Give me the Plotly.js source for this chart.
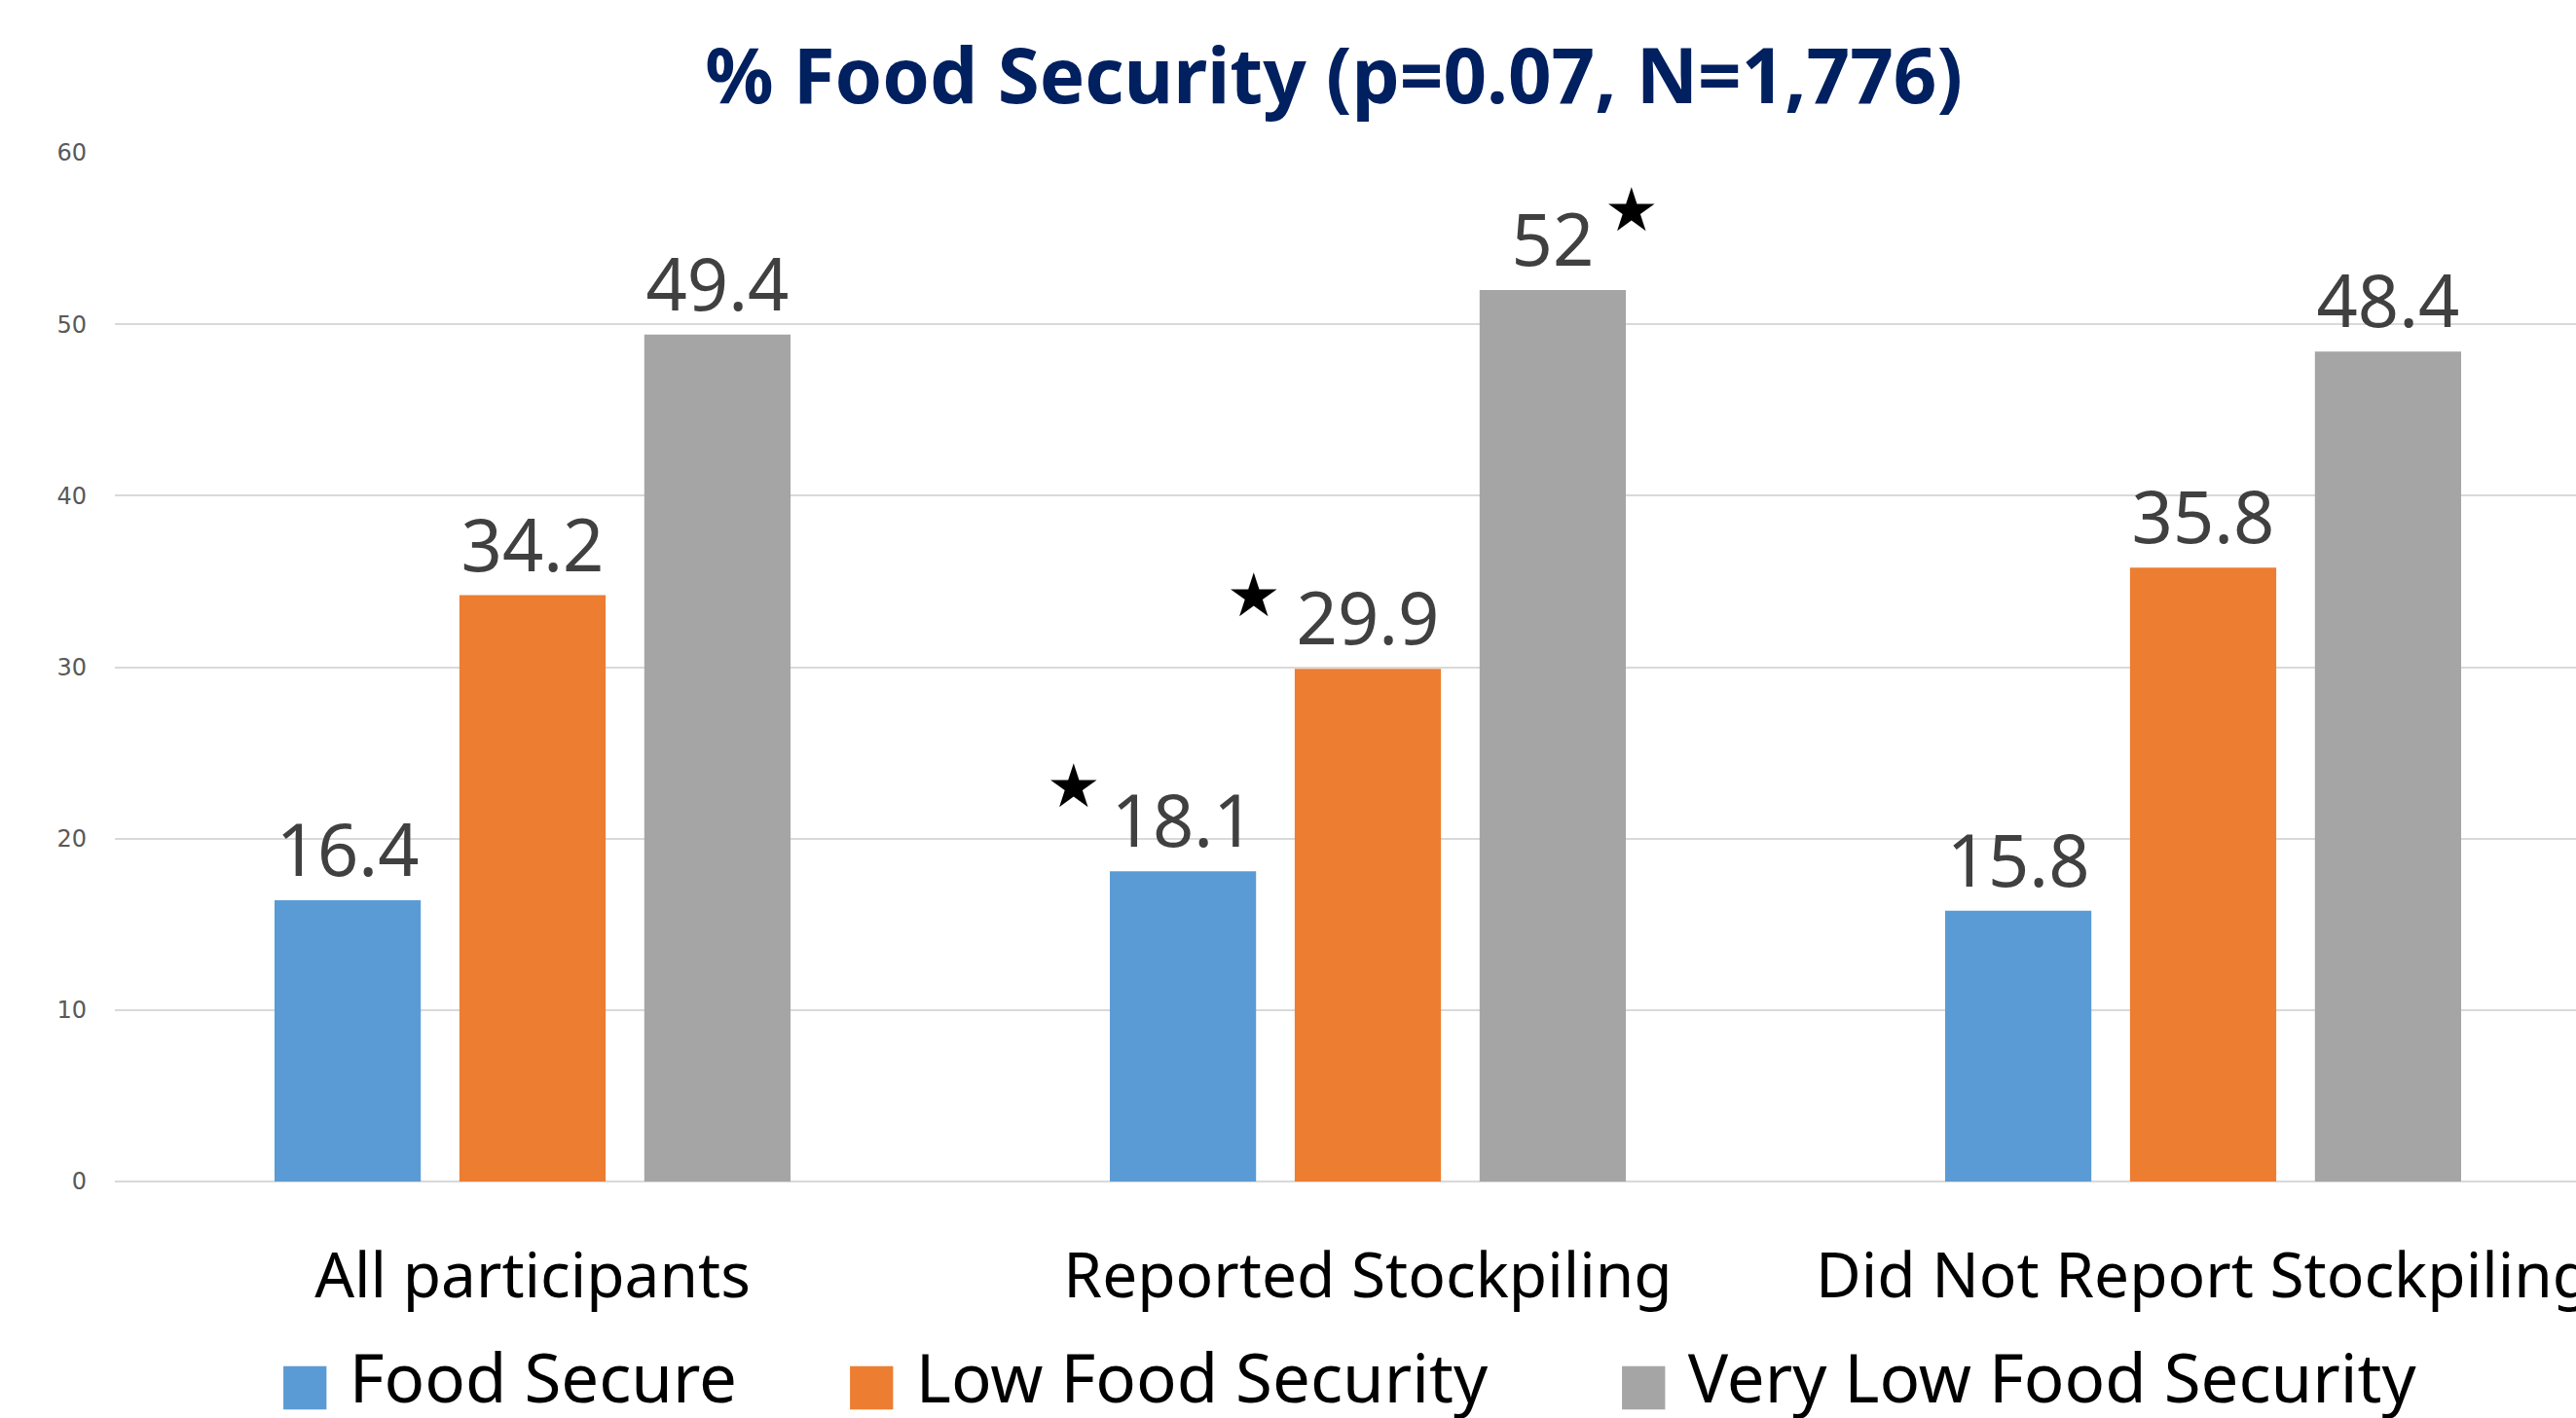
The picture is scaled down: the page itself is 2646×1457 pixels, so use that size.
<!DOCTYPE html>
<html>
<head>
<meta charset="utf-8">
<script src="https://cdn.plot.ly/plotly-3.0.1.min.js"></script>
<style>
html,body{margin:0;padding:0;background:#fff;}
#chart{width:2646px;height:1457px;}
</style>
</head>
<body>
<div id="chart"></div>
<script>
// ---- data ----
const categories = ["All participants", "Reported Stockpiling", "Did Not Report Stockpiling"];
const seriesNames = ["Food Secure", "Low Food Security", "Very Low Food Security"];
const foodSecure = [16.4, 18.1, 15.8];
const lowFoodSecurity = [34.2, 29.9, 35.8];
const veryLowFoodSecurity = [49.4, 52, 48.4];
const seriesColors = ["#5B9BD5", "#ED7D31", "#A5A5A5"];
const yTicks = [0, 10, 20, 30, 40, 50, 60];
const chartTitle = "% Food Security (p=0.07, N=1,776)";
// significance stars: [category, series index, value]
const stars = [
  ["Reported Stockpiling", 0, 18.1],
  ["Reported Stockpiling", 1, 29.9],
  ["Reported Stockpiling", 2, 52]
];

const allSeries = [foodSecure, lowFoodSecurity, veryLowFoodSecurity];
const FONT = "Noto Sans, Open Sans, sans-serif";

const traces = allSeries.map((vals, i) => ({
  type: "bar",
  name: seriesNames[i],
  x: categories,
  y: vals,
  marker: {color: seriesColors[i]},
  text: vals.map(v => String(v)),
  textposition: "outside",
  constraintext: "none",
  cliponaxis: false,
  textfont: {family: FONT, size: 74, color: "#404040"},
  hoverinfo: "skip"
}));

const W = 2646, H = 1457;
const M = {l: 118, r: 0, t: 157, b: 243};
const plotW = W - M.l - M.r, plotH = H - M.t - M.b;

const annotations = [];
// stars
const starOffsets = [[-302, 88], [-117, 76], [271, 82]];
stars.forEach((s, k) => {
  annotations.push({
    x: s[0], y: s[2], xref: "x", yref: "y",
    text: "★", showarrow: false,
    font: {family: "DejaVu Sans", size: 62, color: "#000000"},
    xshift: starOffsets[k][0], yshift: starOffsets[k][1],
    xanchor: "center", yanchor: "middle"
  });
});
// legend (custom, large swatches)
const legendLeftPx = [284, 866, 1659];
const legendYPx = 1414;
seriesNames.forEach((n, i) => {
  annotations.push({
    xref: "paper", yref: "paper",
    x: (legendLeftPx[i] - M.l) / plotW,
    y: (M.t + plotH - legendYPx) / plotH,
    text: '<span style="color:' + seriesColors[i] + ';font-family:DejaVu Sans;font-size:58px">■</span> ' + n,
    showarrow: false, xanchor: "left", yanchor: "middle",
    font: {family: FONT, size: 69, color: "#000000"}
  });
});

const layout = {
  width: W, height: H,
  margin: M,
  paper_bgcolor: "#ffffff",
  plot_bgcolor: "#ffffff",
  showlegend: false,
  barmode: "group",
  bargap: 0.336,
  bargroupgap: 0.209,
  title: {
    text: "<b>" + chartTitle + "</b>",
    font: {family: FONT, size: 78, color: "#002060"},
    x: 1370 / W, xanchor: "center", xref: "container",
    y: 1 - 79 / H, yanchor: "middle", yref: "container"
  },
  xaxis: {
    type: "category",
    range: [-0.5, -0.5 + plotW / 858],
    tickfont: {family: FONT, size: 64, color: "#000000"},
    tickangle: 0,
    ticks: "",
    showgrid: false,
    showline: false,
    zeroline: false,
    ticklabelstandoff: 54,
    fixedrange: true
  },
  yaxis: {
    range: [0, 60],
    tickvals: yTicks,
    ticktext: yTicks.map(String),
    tickfont: {family: "DejaVu Sans", size: 24, color: "#595959"},
    showgrid: true,
    gridcolor: "#D9D9D9",
    gridwidth: 2,
    zeroline: true,
    zerolinecolor: "#D9D9D9",
    zerolinewidth: 2,
    showline: false,
    ticks: "",
    ticklabelstandoff: 28,
    fixedrange: true
  },
  annotations: annotations
};

Plotly.newPlot("chart", traces, layout, {displayModeBar: false, staticPlot: true});
</script>
</body>
</html>
